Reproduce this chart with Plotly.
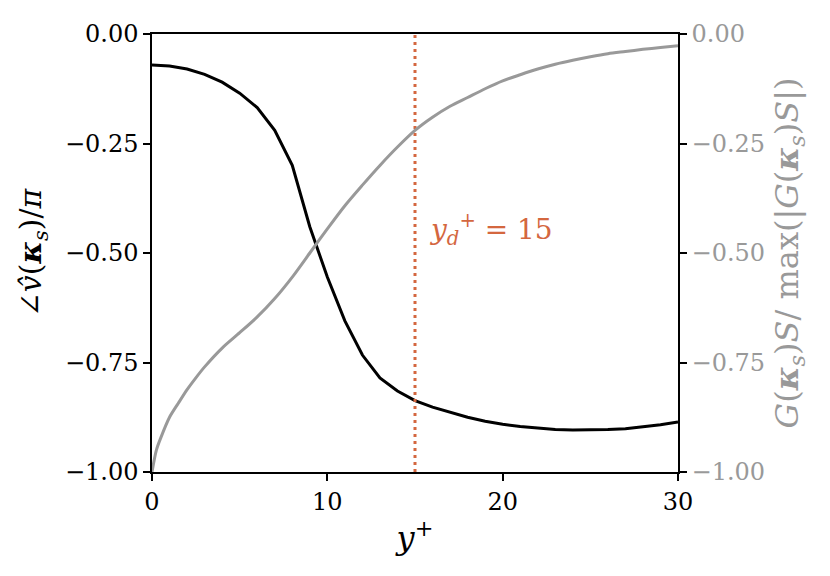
import plotly.graph_objects as go

# data
y_plus = list(range(0, 31))
phase = [-0.071, -0.073, -0.080, -0.092, -0.110, -0.135, -0.168, -0.220, -0.300, -0.440,
         -0.555, -0.655, -0.733, -0.785, -0.815, -0.837, -0.852, -0.864, -0.875, -0.884,
         -0.891, -0.896, -0.900, -0.903, -0.904, -0.904, -0.903, -0.901, -0.897, -0.892,
         -0.886]
y_plus_mag = [0, 0.25, 0.5, 1, 1.5, 2, 2.5, 3] + list(range(4, 31))
magnitude = [-1.0, -0.95, -0.922, -0.875, -0.843, -0.812, -0.785, -0.760,
             -0.717, -0.682, -0.646, -0.604, -0.555, -0.500, -0.445, -0.392, -0.345, -0.300,
             -0.258, -0.220, -0.190, -0.165, -0.145, -0.125, -0.107, -0.093, -0.080, -0.069,
             -0.060, -0.052, -0.045, -0.040, -0.035, -0.031, -0.027]
y_d = 15
x_ticks = [0, 10, 20, 30]
y_ticks = [-1.0, -0.75, -0.5, -0.25, 0.0]
y_ticktext = ["−1.00", "−0.75", "−0.50", "−0.25", "0.00"]

FONT = "DejaVu Serif"
GRAY = "#999999"
ORANGE = "#d4673f"
OFF = 8  # default body margin of the html page

fig = go.Figure()
fig.add_trace(go.Scatter(x=y_plus, y=phase, mode="lines",
                         line=dict(color="black", width=3), yaxis="y"))
fig.add_trace(go.Scatter(x=y_plus_mag, y=magnitude, mode="lines",
                         line=dict(color=GRAY, width=3, shape="spline", smoothing=0.8),
                         yaxis="y2"))
fig.add_trace(go.Scatter(x=[y_d, y_d], y=[-1, 0], mode="lines",
                         line=dict(color=ORANGE, width=3, dash="3px,4px"), yaxis="y"))

fig.add_annotation(x=15.7, y=-0.447, xref="x", yref="y", xanchor="left", yanchor="middle",
                   text="<i>y</i><sub><i>d</i></sub><sup>+</sup> = 15", showarrow=False,
                   font=dict(family=FONT, size=28, color=ORANGE))

fig.update_layout(
    width=830, height=576,
    margin=dict(l=152 - OFF, r=152 + OFF, t=26 - OFF, b=104 + OFF),
    plot_bgcolor="white", paper_bgcolor="white",
    showlegend=False,
    font=dict(family=FONT, size=24, color="black"),
    xaxis=dict(range=[0, 30], tickvals=x_ticks, ticks="outside", ticklen=7, tickwidth=1.5,
               tickcolor="black", showline=True, linecolor="black", linewidth=1.5,
               mirror=True, showgrid=False, zeroline=False,
               title=dict(text="<i>y</i><sup>+</sup>", font=dict(size=32), standoff=12),
               tickfont=dict(size=24)),
    yaxis=dict(range=[-1, 0], tickvals=y_ticks, ticktext=y_ticktext, ticks="outside",
               ticklen=7, tickwidth=1.5, tickcolor="black", showline=True, linecolor="black",
               linewidth=1.5, showgrid=False, zeroline=False,
               title=dict(text="∠<i>v̂</i>(<b><i>κ</i></b><sub><i>s</i></sub>)/<i>π</i>",
                          font=dict(size=30), standoff=14),
               tickfont=dict(size=24)),
    yaxis2=dict(range=[-1, 0], tickvals=y_ticks, ticktext=y_ticktext, ticks="outside",
                ticklen=7, tickwidth=1.5, tickcolor="black", overlaying="y", side="right",
                showline=True, linecolor="black", linewidth=1.5, showgrid=False,
                zeroline=False,
                title=dict(text="<i>G</i>(<b><i>κ</i></b><sub><i>s</i></sub>)<i>S</i>/ max(|<i>G</i>(<b><i>κ</i></b><sub><i>s</i></sub>)<i>S</i>|)",
                           font=dict(size=32, color=GRAY), standoff=12),
                tickfont=dict(size=24, color=GRAY)),
)

fig.write_html("out.html")
